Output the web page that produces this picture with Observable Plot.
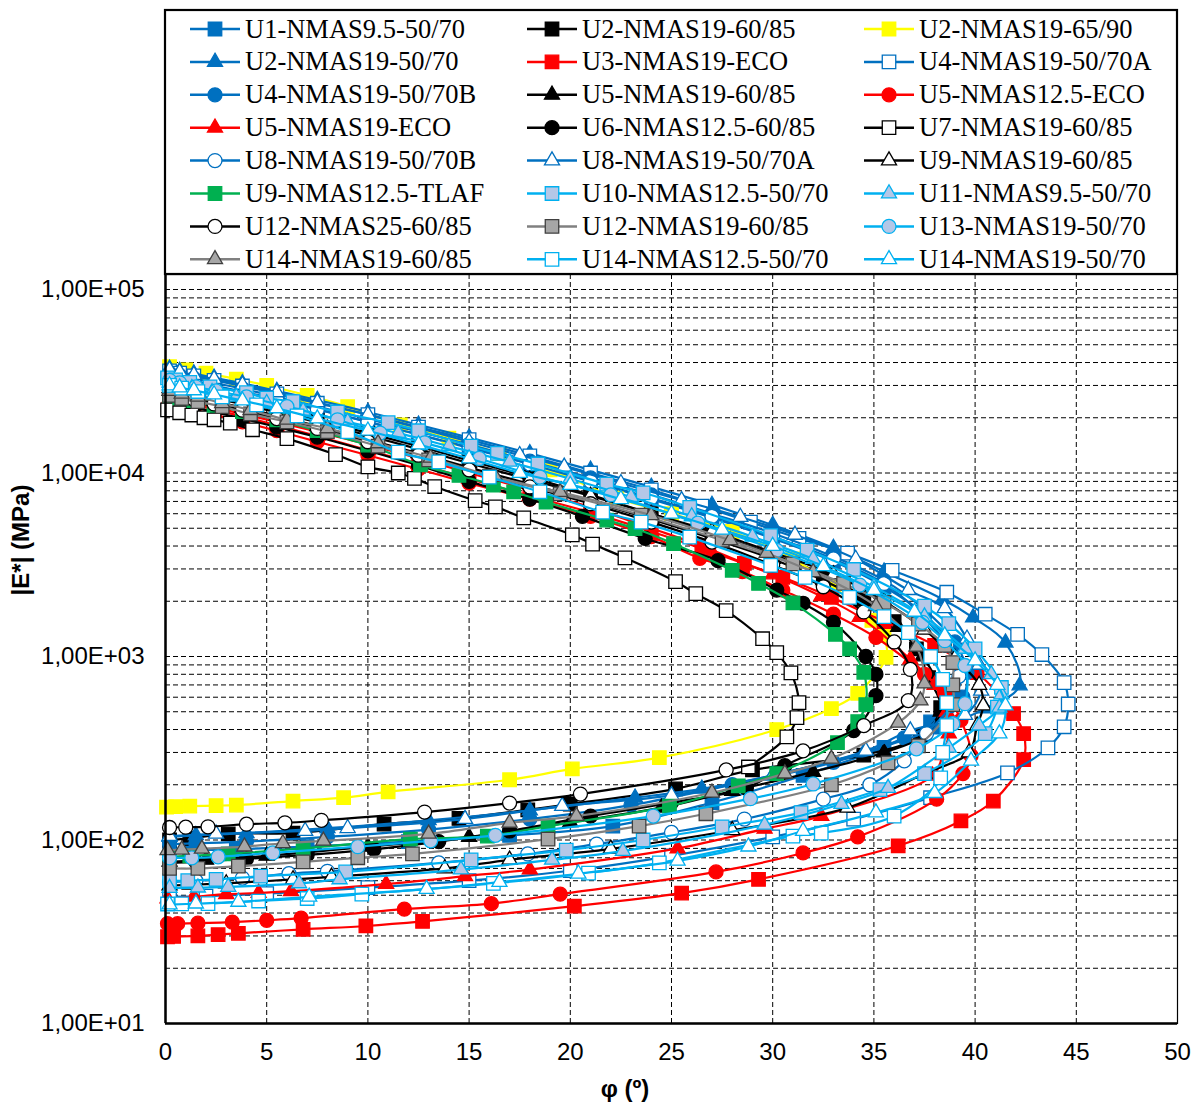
<!DOCTYPE html>
<html><head><meta charset="utf-8">
<script src="https://cdn.jsdelivr.net/npm/d3@7"></script>
<script src="https://cdn.jsdelivr.net/npm/@observablehq/plot@0.6"></script>
<style>
body{margin:0;background:#fff}
#wrap{position:relative;width:1200px;height:1102px}
#wrap svg{position:absolute;left:0;top:0}
</style>
</head><body><div id="wrap"></div>
<script>
// ---- data: [phase angle (deg), |E*| (MPa)] ----
const U1_NMAS9_5_50_70 = [[0.2,34000],[0.7,33000],[1.4,31800],[2.4,30000],[3.8,27800],[5.5,25200],[7.5,22300],[10,19000],[12.5,16200],[15,13700],[18,11200],[21,9000],[24,7200],[27,5700],[30,4400],[33,3300],[35.5,2400],[37.5,1700],[38.8,1150],[39.3,820],[39,600],[37.8,440],[35.5,320],[31.5,225],[27,160],[22.1,119],[17,106],[12,98],[7,92],[3.5,89],[1.2,88],[0.2,87]];
const U2_NMAS19_60_85 = [[0.2,30000],[0.7,29000],[1.4,28000],[2.4,26500],[3.8,24500],[5.5,22000],[7.5,19500],[10,16500],[12.5,14000],[15,11700],[18,9500],[21,7600],[24,6000],[27,4700],[30,3600],[32.5,2800],[34.5,2100],[36,1550],[37.1,1100],[37.7,767],[38.3,526],[37.3,370],[34.5,290],[29,241],[25.2,190],[20,157],[17.9,146],[14.5,131],[10.8,122],[6.3,109],[3.1,108],[1.2,102],[0.2,100]];
const U2_NMAS19_65_90 = [[0.2,38000],[1,36500],[2,35000],[3.5,32500],[5,30000],[7,26500],[9,23000],[11.6,18300],[14,15500],[16.5,12800],[19,10400],[22.3,7300],[25,6000],[28,4800],[31,3400],[33,2400],[34.9,1575],[35.5,1300],[35.6,990],[34.2,630],[32.9,520],[30.2,400],[24.4,281],[20.1,244],[17,213],[11,183],[8.8,170],[6.3,163],[3.5,155],[2.5,154],[1.2,153],[0.5,152],[0.05,151]];
const U2_NMAS19_50_70 = [[0.2,37000],[0.7,36000],[1.4,34800],[2.4,33000],[3.8,30800],[5.5,28000],[7.5,25000],[10,21500],[12.5,18300],[15,15600],[18,12800],[21,10400],[24,8400],[27,6700],[30,5200],[33,3900],[35.5,2900],[38.4,2050],[39.9,1630],[41.5,1190],[42.2,695],[40.5,520],[38,400],[34.5,300],[30,225],[26.5,190],[23.2,170],[18,145],[13,128],[8,116],[4,109],[1.5,106],[0.2,104]];
const U3_NMAS19_ECO = [[0.2,26000],[0.7,25000],[1.4,24000],[2.4,22800],[3.8,21000],[5.5,19000],[7.5,16800],[10,14300],[12.5,12000],[15,10000],[18,8100],[21,6500],[24,5000],[26.5,4000],[28.6,3220],[30.5,2700],[32.9,2100],[35.5,1550],[38,1150],[40.1,818],[41.9,489],[42.4,380],[42.4,274],[40.9,163],[39.3,127],[36.2,93],[29.3,61],[25.5,51.3],[20.2,43.6],[12.7,36],[9.9,34],[6.8,32.6],[3.6,31],[2.6,30.5],[1.6,30],[0.4,29.8],[0.1,29.7]];
const U4_NMAS19_50_70A = [[0.2,36000],[0.7,35000],[1.4,33800],[2.4,32000],[3.8,29800],[5.5,27000],[7.5,24000],[10,20800],[12.5,17800],[15,15200],[18,12400],[21,10000],[24,8100],[26.5,6600],[28.9,5400],[31.3,4400],[33.7,3660],[35.9,2950],[38.6,2240],[40.5,1700],[42.1,1320],[43.3,1025],[44.4,721],[44.6,550],[44.4,414],[43.6,318],[41.6,232],[37.8,170],[34,130],[30,104],[25,82],[20,68],[15,60],[10,55],[5,51],[2,49.5],[0.2,49]];
const U4_NMAS19_50_70B = [[0.2,35000],[0.7,34000],[1.4,32800],[2.4,31000],[3.8,28800],[5.5,26000],[7.5,23000],[10,19700],[12.5,16800],[15,14300],[18,11600],[21,9400],[24,7600],[27,6000],[30,4700],[33,3500],[35.5,2600],[37.5,1800],[39,1200],[39.6,820],[39.4,600],[38.5,470],[36.5,360],[33,265],[28,200],[23,155],[18,130],[13,114],[8,104],[4,98],[1.5,96],[0.2,95]];
const U5_NMAS19_60_85 = [[0.2,28000],[0.7,27000],[1.4,26000],[2.4,24600],[3.8,22700],[5.5,20500],[7.5,18000],[10,15200],[12.5,12800],[15,10700],[18,8700],[21,7000],[24,5600],[27,4400],[30,3400],[32.5,2600],[34.5,2000],[36.2,1450],[37.4,1000],[38.2,700],[38.3,500],[37.5,370],[35.5,300],[32,235],[28,185],[24.5,150],[20,125],[15,104],[10,92],[5,82],[2,78],[0.2,76]];
const U5_NMAS12_5_ECO = [[0.2,24000],[0.7,23000],[1.4,22000],[2.4,20800],[3.8,19000],[5.5,17000],[7.5,14800],[10,12500],[12.5,10500],[15,8800],[18,7200],[21,5800],[24,4500],[26.4,3430],[28.5,2900],[30.5,2300],[33,1700],[35.1,1270],[37.5,800],[38.5,635],[39.3,450],[39.8,288],[39.4,230],[38.1,167],[34.2,104],[31.5,85],[27.2,67],[19.5,50.7],[16.1,45],[11.8,42],[6.7,37.5],[5,36.5],[3.3,35.7],[1.6,35.2],[0.6,35],[0.1,35]];
const U5_NMAS19_ECO = [[0.2,25500],[0.7,24500],[1.4,23500],[2.4,22200],[3.8,20300],[5.5,18200],[7.5,15900],[10,13300],[12.5,11200],[15,9300],[18,7500],[21,6100],[24,4800],[27,3700],[30,2800],[32.4,2130],[34.3,1640],[36.8,964],[38,700],[38.6,500],[38.7,380],[38.4,290],[37.9,224],[32.4,135],[29.6,115],[25.3,90],[18,69],[14.8,63.5],[10.9,57.5],[6.2,52.6],[4.6,51.4],[3,50.7],[1.4,49],[0.1,48]];
const U6_NMAS12_5_60_85 = [[0.2,24500],[0.7,23700],[1.4,22800],[2.4,21500],[3.8,19800],[5.5,17800],[7.5,15700],[10,13200],[12.5,11000],[15,9000],[18,7200],[20.6,5800],[23.7,4400],[27.3,3330],[30.2,2300],[31.5,1950],[33,1535],[34.6,1000],[35.1,800],[35.1,612],[34,395],[30.6,254],[28.7,192],[25,160],[21,135],[17,112],[13.5,98],[10.3,89],[7,83],[4,79],[1.5,76],[0.2,75]];
const U7_NMAS19_60_85 = [[0.1,22100],[0.7,21300],[1.3,20700],[1.9,20000],[2.4,19500],[3.2,18700],[4.3,17200],[6,15400],[8.4,12600],[10,10800],[11.5,10000],[12.3,9350],[13.3,8440],[15.3,7070],[16.3,6540],[17.7,5700],[20.1,4600],[21.1,4100],[22.7,3450],[25.2,2560],[26.2,2200],[27.7,1780],[29.5,1250],[30.2,1050],[30.9,815],[31.3,560],[31.2,464],[30.7,365],[28.8,250]];
const U8_NMAS19_50_70B = [[0.2,33500],[0.7,32500],[1.4,31300],[2.4,29600],[3.8,27500],[5.5,25000],[7.5,22200],[10,19000],[12.5,16200],[15,13800],[18,11200],[21,9000],[24,7300],[27,5800],[30,4500],[33,3400],[35.5,2500],[37.2,1750],[38.6,1150],[39.2,780],[38.8,540],[37.6,380],[36.5,270],[34.8,200],[32.5,167],[28.6,130],[25,110],[21.3,95],[17.9,84],[13.5,75],[8,67.5],[6.1,65.5],[3.8,62],[1.5,60],[0.2,59]];
const U8_NMAS19_50_70A = [[0.2,36500],[0.7,35500],[1.4,34200],[2.4,32500],[3.8,30200],[5.5,27500],[7.5,24300],[10,20800],[12.5,17600],[15,14800],[17.5,12500],[19.7,10800],[22.5,8800],[25.5,7100],[28.4,5760],[31.1,4600],[34.1,3400],[36.7,2300],[38.5,1830],[39.6,1250],[40.2,900],[40.3,650],[39.5,480],[36.8,395],[34.6,306],[30,225],[25,175],[19.6,153],[14.8,130],[9,116],[6.9,112],[2.5,108],[0.2,105]];
const U9_NMAS19_60_85 = [[0.2,29000],[0.7,28000],[1.4,27000],[2.4,25600],[3.8,23700],[5.5,21400],[7.5,18900],[10,16000],[12.5,13500],[15,11300],[18,9200],[21,7500],[24,6000],[27,4800],[30,3700],[33,2800],[35.5,2000],[37.5,1400],[39,980],[40.2,700],[40.4,540],[40.1,420],[39.7,300],[37.5,230],[33.7,150],[28,113],[22,89.5],[17,78],[13.8,70],[8.2,63],[6.3,61],[3,58],[1.2,57],[0.2,56.5]];
const U9_NMAS12_5_TLAF = [[0.2,26500],[0.7,25700],[1.4,24800],[2.4,23400],[3.8,21600],[5.5,19500],[7.5,17000],[10,14200],[12.6,11070],[14.5,9700],[16.2,8600],[17.2,7900],[18.8,6950],[21.8,5540],[23.2,4980],[25.1,4120],[28,2950],[29.3,2500],[31,1960],[33.1,1320],[33.8,1100],[34.5,820],[34.6,547],[34.2,442],[33.2,339],[30.2,230],[28.3,197],[24.9,153],[18.9,119],[15.9,105],[12.1,101],[6.8,90],[3.1,84],[1.2,82],[0.2,81]];
const U10_NMAS12_5_50_70 = [[0.1,33000],[0.5,32200],[1.2,31200],[2.2,29500],[4,27400],[5,25600],[6.3,24500],[8.5,21500],[11,18800],[12.5,17000],[15.1,14000],[16.4,12800],[18.4,11200],[21.8,8700],[23.6,7800],[25.9,6500],[29.9,4560],[31.7,3800],[34,2980],[37.5,1880],[38.7,1510],[40,1100],[41.3,678],[41.1,530],[40.5,380],[37.5,230],[35.3,188],[31.4,141],[27.5,118],[23.6,100],[19.8,88],[15.1,78],[8.9,67],[4.7,63.5],[2.5,61],[1.1,60],[0.2,60]];
const U11_NMAS9_5_50_70 = [[0.2,31000],[0.6,30000],[1.3,29000],[2.3,27500],[3.5,26000],[5,24000],[6.8,21800],[9,19000],[11.5,16500],[14,14000],[17,11500],[20,9300],[23,7400],[26,5800],[29,4500],[32,3400],[35,2400],[37.5,1650],[39.5,1100],[40.8,800],[41.3,620],[41.2,526],[40.2,420],[38.7,318],[35.7,192],[33.4,157],[29.6,121],[22.6,87],[19.1,78],[14.6,69],[8.6,61],[6.6,58],[3.1,55.5],[1.6,55],[0.2,54.7]];
const U12_NMAS25_60_85 = [[0.2,27000],[0.7,26200],[1.4,25200],[2.4,23800],[3.8,22000],[5.5,19800],[7.5,17500],[10,14800],[12.5,12500],[15,10400],[18,8400],[21,6800],[24,5400],[27,4200],[30,3150],[32.5,2400],[34.5,1750],[36,1200],[36.8,850],[36.7,575],[34.5,420],[31.5,306],[27.7,241],[20.5,178],[17,159],[12.8,142],[7.7,128],[5.9,124],[4,122],[2.1,118],[1,117.5],[0.2,117]];
const U12_NMAS19_60_85 = [[0.2,26500],[0.8,25500],[1.6,24500],[2.8,23000],[4.2,21000],[6,19000],[8,16800],[10.5,14000],[13,11800],[16,9600],[19.5,7700],[23.5,5900],[27.5,4300],[31,3200],[33.5,2500],[35.5,1970],[37.2,1500],[38.5,1150],[38.9,927],[38.9,700],[38.9,547],[37.2,326],[35.7,263],[32.9,200],[26.7,139],[23.4,119],[18.9,101],[12.2,84],[9.5,80],[6.8,76],[3.6,72],[1.6,70],[0.2,70]];
const U13_NMAS19_50_70 = [[0.2,32000],[0.7,31000],[1.5,29500],[2.5,28000],[4,26000],[6,23000],[8.5,19500],[10.6,16500],[12.8,14600],[15.5,12000],[18.5,9500],[22,7600],[26.3,5330],[30.2,3790],[34.3,2450],[37.4,1535],[38.5,1220],[39.5,893],[39.5,553],[38.9,430],[37.1,314],[32,202],[28.9,168],[24.1,135],[16.3,106],[13.1,99],[9.5,92],[5.3,85],[2.6,81],[1.3,80],[0.2,80]];
const U14_NMAS19_60_85 = [[0.2,28000],[0.8,27000],[1.6,26000],[2.8,24000],[4.2,22000],[6,19500],[8,17500],[10.5,14500],[13.1,12100],[16.3,9500],[19.5,7870],[24,5880],[27.9,4300],[29.7,3660],[32,2880],[35.1,1880],[37.1,1130],[37.5,712],[37.3,575],[36.2,435],[32.9,277],[30.6,230],[27,181],[20.3,135],[17,124],[13,108],[7.8,99],[5.8,96],[3.9,92],[1.8,89.5],[0.8,88.5],[0.1,88]];
const U14_NMAS12_5_50_70 = [[0.2,30000],[0.8,29000],[1.6,27800],[2.8,26000],[4.5,23500],[6.5,20500],[9,16800],[11.5,13000],[13.5,11500],[16,9500],[18.5,7900],[21.6,6120],[23.5,5400],[25.9,4470],[29.9,3140],[31.6,2700],[33.8,2100],[35.5,1650],[36.7,1350],[37.8,1000],[38.4,750],[38.6,560],[38.6,420],[38.4,300],[38.3,218],[36,135],[32.4,109],[31,105],[24.4,75],[20.9,66],[16.2,58],[9.7,50.7],[7,48],[4.6,46.5],[2.1,45],[0.8,44.9],[0.1,44.8]];
const U14_NMAS19_50_70 = [[0.2,30000],[0.7,29200],[1.4,28200],[2.4,26800],[3.8,24800],[5.5,22500],[7.5,19800],[10,17000],[12.5,14300],[15,12000],[17.5,10000],[20,8600],[22.5,7200],[25,6000],[27.5,4900],[30,4000],[32.5,3100],[35,2300],[37,1750],[38.5,1300],[40,950],[41.1,700],[41.5,540],[41.2,380],[39.8,270],[38,180],[35.1,141],[31.5,112],[28.8,92],[25.3,77],[20.4,65.5],[16.5,59],[12.9,54],[7.1,49],[3.6,46],[1.5,45],[0.2,44.5]];

const seriesNames = ["U1-NMAS9.5-50/70","U2-NMAS19-60/85","U2-NMAS19-65/90","U2-NMAS19-50/70","U3-NMAS19-ECO","U4-NMAS19-50/70A","U4-NMAS19-50/70B","U5-NMAS19-60/85","U5-NMAS12.5-ECO","U5-NMAS19-ECO","U6-NMAS12.5-60/85","U7-NMAS19-60/85","U8-NMAS19-50/70B","U8-NMAS19-50/70A","U9-NMAS19-60/85","U9-NMAS12.5-TLAF","U10-NMAS12.5-50/70","U11-NMAS9.5-50/70","U12-NMAS25-60/85","U12-NMAS19-60/85","U13-NMAS19-50/70","U14-NMAS19-60/85","U14-NMAS12.5-50/70","U14-NMAS19-50/70"];
const seriesValues = [U1_NMAS9_5_50_70,U2_NMAS19_60_85,U2_NMAS19_65_90,U2_NMAS19_50_70,U3_NMAS19_ECO,U4_NMAS19_50_70A,U4_NMAS19_50_70B,U5_NMAS19_60_85,U5_NMAS12_5_ECO,U5_NMAS19_ECO,U6_NMAS12_5_60_85,U7_NMAS19_60_85,U8_NMAS19_50_70B,U8_NMAS19_50_70A,U9_NMAS19_60_85,U9_NMAS12_5_TLAF,U10_NMAS12_5_50_70,U11_NMAS9_5_50_70,U12_NMAS25_60_85,U12_NMAS19_60_85,U13_NMAS19_50_70,U14_NMAS19_60_85,U14_NMAS12_5_50_70,U14_NMAS19_50_70];
const xTicks = [0,5,10,15,20,25,30,35,40,45,50];
const yTicks = [10,100,1000,10000,100000];

// ---- styles ----
const BLUE="#0070C0", BLK="#000000", YEL="#FFFF00", RED="#FF0000", GRN="#00B050", LBL="#00B0F0", LFILL="#B4C7E7", GRY="#808080", GFILL="#A6A6A6", GSTR="#404040";
const styles = [
 {line:BLUE,sym:"square",fill:BLUE,stroke:BLUE},
 {line:BLK,sym:"square",fill:BLK,stroke:BLK},
 {line:YEL,sym:"square",fill:YEL,stroke:YEL},
 {line:BLUE,sym:"triangle",fill:BLUE,stroke:BLUE},
 {line:RED,sym:"square",fill:RED,stroke:RED},
 {line:BLUE,sym:"square",fill:"#fff",stroke:BLUE},
 {line:BLUE,sym:"circle",fill:BLUE,stroke:BLUE},
 {line:BLK,sym:"triangle",fill:BLK,stroke:BLK},
 {line:RED,sym:"circle",fill:RED,stroke:RED},
 {line:RED,sym:"triangle",fill:RED,stroke:RED},
 {line:BLK,sym:"circle",fill:BLK,stroke:BLK},
 {line:BLK,sym:"square",fill:"#fff",stroke:BLK},
 {line:BLUE,sym:"circle",fill:"#fff",stroke:BLUE},
 {line:BLUE,sym:"triangle",fill:"#fff",stroke:BLUE},
 {line:BLK,sym:"triangle",fill:"#fff",stroke:BLK},
 {line:GRN,sym:"square",fill:GRN,stroke:GRN},
 {line:LBL,sym:"square",fill:LFILL,stroke:LBL},
 {line:LBL,sym:"triangle",fill:LFILL,stroke:LBL},
 {line:BLK,sym:"circle",fill:"#fff",stroke:BLK},
 {line:GRY,sym:"square",fill:GFILL,stroke:GSTR},
 {line:LBL,sym:"circle",fill:LFILL,stroke:LBL},
 {line:GRY,sym:"triangle",fill:GFILL,stroke:GSTR},
 {line:LBL,sym:"square",fill:"#fff",stroke:LBL},
 {line:LBL,sym:"triangle",fill:"#fff",stroke:LBL}
];
const R = {square:7.6, circle:7, triangle:5.6};

const W=1200, H=1102, ML=165, MR=23, MT=274, MB=79;
const yTop = Math.pow(10, 5 + 15/183.5);

const yGrid = [];
for (let k=1;k<=4;k++) for (let m=1;m<=9;m++) yGrid.push(m*Math.pow(10,k));
yGrid.push(1e5);

const marks = [
  Plot.ruleY(yGrid.filter(v=>v>10), {y:d=>d, stroke:"#000", strokeWidth:1, strokeDasharray:"5,3"}),
  Plot.ruleX(xTicks.filter(v=>v>0 && v<50), {x:d=>d, stroke:"#000", strokeWidth:1, strokeDasharray:"5,3"})
];
seriesValues.forEach((data,i)=>{
  const s = styles[i];
  marks.push(Plot.line(data, {x:d=>d[0], y:d=>d[1], stroke:s.line, strokeWidth:2.2, curve:"catmull-rom"}));
  marks.push(Plot.dot(data, {x:d=>d[0], y:d=>d[1], symbol:s.sym, r:R[s.sym], fill:s.fill, stroke:s.stroke, strokeWidth:1.3}));
});
marks.push(
  Plot.frame({stroke:"#000", strokeWidth:1.2}),
  Plot.ruleX([0], {x:d=>d, stroke:"#000", strokeWidth:2.5}),
  Plot.ruleY([10], {y:d=>d, stroke:"#000", strokeWidth:2.5}),
  Plot.axisX({ticks:xTicks, tickSize:0, tickPadding:19, label:null, fontSize:24, tickFormat:d=>String(d)}),
  Plot.axisY({ticks:yTicks, tickSize:0, tickPadding:21, label:null, fontSize:24,
    tickFormat:d=>"1,00E+"+String(Math.round(Math.log10(d))).padStart(2,"0")})
);

const chart = Plot.plot({
  width:W, height:H, marginLeft:ML, marginRight:MR, marginTop:MT, marginBottom:MB,
  x:{domain:[0,50]},
  y:{type:"log", domain:[10,yTop]},
  style:{fontFamily:"'Liberation Sans', Arial, sans-serif", fontSize:"24px", color:"#000", background:"transparent"},
  marks
});
const wrap = document.getElementById("wrap");
wrap.appendChild(chart);

// ---- overlay: legend box and axis titles ----
const ov = d3.select(wrap).append("svg").attr("width",W).attr("height",H).style("pointer-events","none");
ov.append("rect").attr("x",ML).attr("y",10).attr("width",W-ML-MR).attr("height",MT-10)
  .attr("fill","#fff").attr("stroke","#000").attr("stroke-width",2.2);
const colX = [190,527,864], rowY0 = 29, rowStep = 32.9;
seriesNames.forEach((name,i)=>{
  const s = styles[i];
  const cx = colX[i%3], cy = rowY0 + Math.floor(i/3)*rowStep;
  const g = ov.append("g");
  g.append("line").attr("x1",cx).attr("x2",cx+50).attr("y1",cy).attr("y2",cy).attr("stroke",s.line).attr("stroke-width",2.5);
  const symType = s.sym==="square"?d3.symbolSquare:s.sym==="circle"?d3.symbolCircle:d3.symbolTriangle;
  const r = R[s.sym];
  g.append("path").attr("d", d3.symbol(symType, Math.PI*r*r)()).attr("transform",`translate(${cx+25},${cy})`)
    .attr("fill",s.fill).attr("stroke",s.stroke).attr("stroke-width",1.3);
  g.append("text").attr("x",cx+55).attr("y",cy+8.5).text(name)
    .attr("font-family","'Liberation Serif','Times New Roman',serif").attr("font-size",26.5).attr("fill","#000");
});
ov.append("text").attr("x",625).attr("y",1097).attr("text-anchor","middle")
  .attr("font-family","'Liberation Sans', Arial, sans-serif").attr("font-weight","bold").attr("font-size",24).text("φ (º)");
ov.append("text").attr("transform","translate(29,540) rotate(-90)").attr("text-anchor","middle")
  .attr("font-family","'Liberation Sans', Arial, sans-serif").attr("font-weight","bold").attr("font-size",24).text("|E*| (MPa)");
</script>
</body></html>
